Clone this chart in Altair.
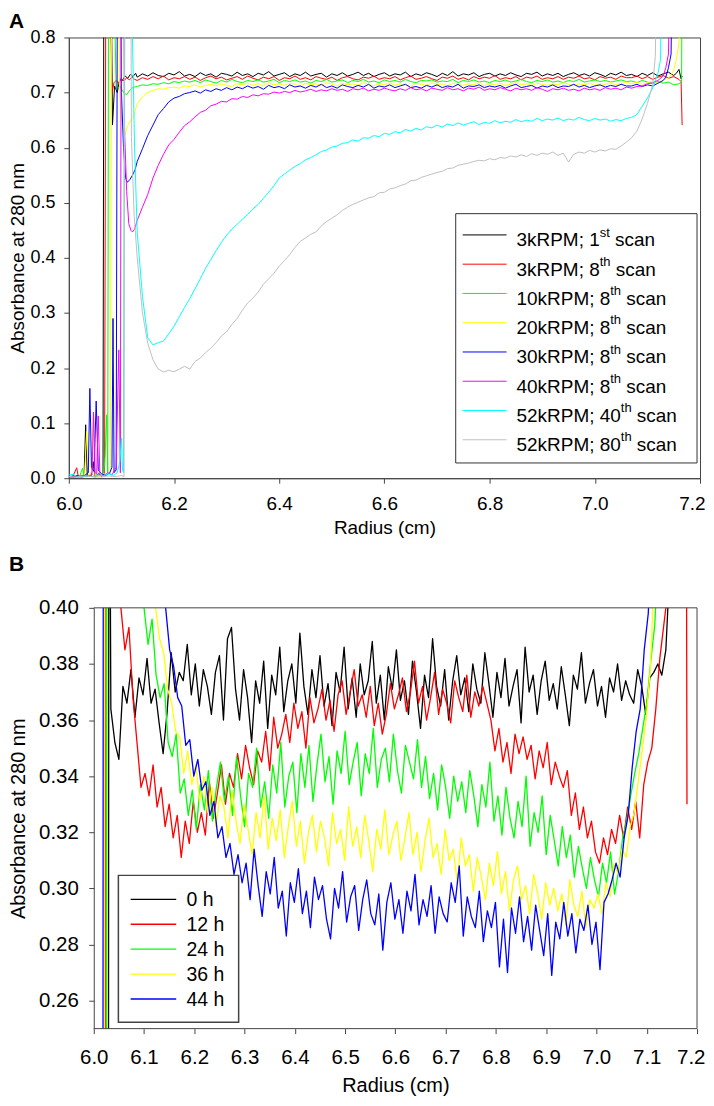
import altair as alt
import pandas as pd

FONT = "Liberation Sans"

# ======================= Panel A data (absorbance vs radius) =======================
A_BODY_X0 = 6.13
A_BODY_STEP = 0.01

A_BLACK_HEAD_X = [6.000,6.008,6.016,6.024,6.029,6.032,6.035,6.042,6.046,6.050,6.056,6.062,6.065,6.067,6.078,6.083,6.087,6.092,6.097,6.102,6.107,6.112,6.117,6.122,6.127]
A_BLACK_HEAD_Y = [0.004,0.002,0.005,0.003,0.006,0.097,0.005,0.004,0.030,0.003,0.008,0.004,0.006,1.200,1.200,0.641,0.712,0.700,0.725,0.722,0.730,0.726,0.733,0.729,0.735]
A_BLACK_BODY = [728,734,730,736,731,729,735,732,738,730,
                733,729,736,731,734,728,735,733,730,737,
                731,734,729,735,732,738,730,733,736,729,
                734,731,737,730,733,735,728,734,731,736,
                730,733,737,731,735,729,733,736,730,734,
                732,737,729,734,731,736,733,729,735,731,
                738,730,734,732,736,729,733,735,730,734,
                731,736,732,729,735,733,737,730,734,731,
                735,729,733,736,731,734,730,736,733,729,
                735,732,737,731]
A_BLACK_TAIL_X = [7.07,7.08,7.09,7.10,7.11,7.12,7.13,7.14,7.15,7.155,7.16,7.164,7.166]
A_BLACK_TAIL_Y = [0.733,0.729,0.735,0.731,0.736,0.730,0.734,0.737,0.731,0.735,0.742,0.725,0.730]

A_RED_HEAD_X = [6.000,6.008,6.015,6.018,6.025,6.035,6.045,6.055,6.063,6.068,6.071,6.073,6.082,6.086,6.090,6.095,6.100,6.105,6.110,6.115,6.120,6.125]
A_RED_HEAD_Y = [0.003,0.004,0.019,0.003,0.002,0.005,0.003,0.006,0.004,0.008,1.200,1.200,0.700,0.718,0.722,0.717,0.725,0.721,0.727,0.723,0.728,0.724]
A_RED_BODY = [722,727,724,729,725,730,723,727,725,729,
              724,728,722,727,730,725,728,723,726,729,
              724,730,726,723,728,725,729,722,727,725,
              730,724,727,723,729,726,724,728,722,727,
              729,725,723,728,726,730,724,727,725,729,
              723,727,730,724,726,729,725,722,728,726,
              730,724,727,723,729,725,728,726,731,724,
              727,725,729,723,728,726,730,724,727,725,
              729,724,728,726,730,725,727,723,729,726,
              728,724,730,727]
A_RED_TAIL_X = [7.07,7.08,7.09,7.10,7.11,7.12,7.13,7.14,7.15,7.16,7.164,7.166]
A_RED_TAIL_Y = [0.727,0.730,0.725,0.729,0.724,0.728,0.731,0.726,0.729,0.724,0.720,0.641]

A_GREEN_HEAD_X = [6.000,6.010,6.020,6.026,6.029,6.040,6.050,6.060,6.066,6.069,6.072,6.074,6.076,6.080,6.090,6.097,6.104,6.110,6.115,6.120,6.125]
A_GREEN_HEAD_Y = [0.002,0.003,0.002,0.018,0.003,0.004,0.002,0.006,0.004,0.040,0.115,0.010,1.200,1.200,0.705,0.712,0.700,0.696,0.703,0.708,0.710]
A_GREEN_BODY = [711,714,713,716,715,718,716,720,718,721,
                719,722,718,723,720,717,722,719,724,720,
                718,722,720,723,719,721,724,718,722,720,
                723,719,721,717,722,720,724,719,721,723,
                718,722,720,724,719,721,718,723,720,722,
                719,724,720,718,722,721,723,719,721,720,
                724,718,722,720,723,719,721,718,722,720,
                723,719,721,724,720,718,722,720,723,719,
                721,718,722,720,724,719,721,723,720,722,
                719,721,723,720]
A_GREEN_TAIL_X = [7.07,7.08,7.09,7.10,7.11,7.12,7.13,7.14,7.15,7.16,7.165,7.167]
A_GREEN_TAIL_Y = [0.721,0.718,0.722,0.719,0.716,0.720,0.717,0.719,0.714,0.716,0.720,1.200]

A_YELLOW_HEAD_X = [6.000,6.012,6.022,6.030,6.034,6.038,6.043,6.046,6.050,6.058,6.066,6.074,6.079,6.082,6.090,6.097,6.102,6.106,6.112,6.118,6.124]
A_YELLOW_HEAD_Y = [0.003,0.002,0.004,0.006,0.085,0.004,0.010,0.120,0.005,0.004,0.008,0.006,0.010,1.200,1.200,0.690,0.640,0.622,0.640,0.650,0.660]
A_YELLOW_BODY = [680,692,700,704,707,706,709,710,708,712,
                 711,714,710,713,715,712,716,713,711,716,
                 714,717,713,716,712,718,714,716,713,717,
                 715,712,717,714,716,713,718,715,712,717,
                 714,716,713,718,715,712,716,714,718,713,
                 716,714,711,717,715,713,718,714,716,712,
                 717,715,713,716,714,718,712,716,714,717,
                 713,715,718,714,716,712,717,715,713,716,
                 714,718,715,712,716,714,717,713,716,715,
                 718,714,716,719]
A_YELLOW_TAIL_X = [7.07,7.08,7.09,7.10,7.11,7.12,7.13,7.14,7.15,7.155,7.16,7.164]
A_YELLOW_TAIL_Y = [0.716,0.719,0.715,0.718,0.721,0.717,0.722,0.726,0.740,0.760,0.790,1.200]

A_BLUE_HEAD_X = [6.000,6.010,6.020,6.030,6.037,6.040,6.043,6.048,6.052,6.056,6.062,6.070,6.078,6.082,6.084,6.086,6.090,6.093,6.097,6.100,6.104,6.108,6.111,6.116,6.121,6.126]
A_BLUE_HEAD_Y = [0.002,0.004,0.003,0.005,0.010,0.163,0.020,0.012,0.140,0.015,0.008,0.005,0.010,0.020,0.290,0.010,0.015,1.200,1.200,0.700,0.600,0.545,0.537,0.542,0.550,0.560]
A_BLUE_BODY = [575,598,622,641,660,671,683,690,693,698,
               700,703,699,705,702,707,704,709,705,710,
               707,712,708,711,706,713,709,711,707,714,
               710,712,708,713,710,715,709,712,708,714,
               711,709,713,710,715,708,712,710,714,709,
               712,715,709,711,708,713,710,714,709,712,
               710,715,708,712,711,714,709,712,710,713,
               708,712,715,709,711,713,708,712,710,714,
               709,712,711,715,710,713,709,712,714,710,
               713,711,715,712]
A_BLUE_TAIL_X = [7.07,7.08,7.09,7.10,7.11,7.12,7.13,7.135,7.14,7.145,7.15]
A_BLUE_TAIL_Y = [0.712,0.715,0.711,0.714,0.712,0.717,0.722,0.728,0.745,0.770,1.200]

A_MAGENTA_HEAD_X = [6.000,6.012,6.024,6.034,6.044,6.047,6.050,6.053,6.056,6.059,6.066,6.074,6.082,6.090,6.095,6.098,6.100,6.103,6.106,6.110,6.114,6.118,6.121,6.125]
A_MAGENTA_HEAD_Y = [0.003,0.002,0.004,0.003,0.006,0.120,0.010,0.008,0.113,0.006,0.004,0.010,0.006,0.020,0.233,0.010,1.200,1.200,0.630,0.520,0.462,0.450,0.447,0.452]
A_MAGENTA_BODY = [468,492,515,545,568,588,605,615,628,640,
                  647,656,664,668,676,679,684,683,689,688,
                  693,691,696,694,698,697,701,699,702,700,
                  704,701,703,706,702,705,703,707,704,706,
                  702,707,705,708,703,706,704,708,705,703,
                  707,704,709,705,707,703,708,706,704,709,
                  705,707,703,708,706,710,704,707,705,709,
                  706,703,708,705,707,704,709,706,702,707,
                  705,708,704,706,703,708,705,707,704,709,
                  706,708,705,710]
A_MAGENTA_TAIL_X = [7.07,7.08,7.09,7.10,7.11,7.12,7.13,7.135,7.14,7.148]
A_MAGENTA_TAIL_Y = [0.708,0.711,0.712,0.716,0.718,0.722,0.730,0.745,0.770,1.200]

A_CYAN_HEAD_X = [6.000,6.008,6.016,6.025,6.035,6.045,6.055,6.065,6.075,6.085,6.092,6.097,6.100,6.102,6.104,6.106,6.118,6.121,6.125]
A_CYAN_HEAD_Y = [0.006,0.007,0.003,0.002,0.004,0.003,0.006,0.004,0.008,0.005,0.010,0.030,0.073,0.015,0.010,1.200,1.200,0.800,0.600]
A_CYAN_BODY = [447,330,255,242,246,249,262,276,293,310,
               326,344,362,381,397,413,428,441,452,461,
               470,479,489,497,508,519,531,545,552,559,
               566,571,578,582,587,593,596,601,603,608,
               609,614,612,618,617,622,620,626,624,629,
               627,633,630,635,632,638,636,641,637,643,
               640,645,641,644,647,642,646,644,649,645,
               648,646,651,647,650,648,653,649,652,650,
               654,649,652,650,655,651,649,653,650,652,
               648,651,649,653]
A_CYAN_TAIL_X = [7.07,7.08,7.09,7.10,7.11,7.12,7.125,7.13]
A_CYAN_TAIL_Y = [0.655,0.660,0.675,0.690,0.708,0.735,0.760,1.200]

A_GRAY_HEAD_X = [6.000,6.015,6.030,6.045,6.060,6.075,6.090,6.100,6.105,6.107,6.117,6.119,6.124]
A_GRAY_HEAD_Y = [0.003,0.002,0.004,0.003,0.002,0.004,0.003,0.005,0.003,1.200,1.200,0.620,0.480]
A_GRAY_BODY = [400,300,245,215,198,193,196,193,198,203,
               198,212,218,228,236,246,258,266,279,290,
               305,318,327,338,352,362,372,385,395,406,
               419,430,436,443,447,458,466,472,478,486,
               492,497,501,505,509,511,518,519,525,527,
               531,534,540,541,546,549,552,555,557,562,
               563,568,570,572,575,577,576,580,578,582,
               581,585,583,587,584,589,586,590,588,592,
               586,590,574,588,592,590,595,592,596,594,
               598,597,603,610]
A_GRAY_TAIL_X = [7.07,7.08,7.09,7.10,7.11,7.115,7.122]
A_GRAY_TAIL_Y = [0.618,0.630,0.652,0.680,0.715,0.765,1.200]

A_LABEL_MAIN = ["3kRPM; 1", "3kRPM; 8", "10kRPM; 8", "20kRPM; 8",
                "30kRPM; 8", "40kRPM; 8", "52kRPM; 40", "52kRPM; 80"]
A_LABEL_SUP = ["st", "th", "th", "th", "th", "th", "th", "th"]
A_LABEL_END = "scan"
A_COLORS = ["#000000", "#ff0000", "#00ff00", "#ffff00",
            "#0000ff", "#ff00ff", "#00ffff", "#c0c0c0"]
A_X_TICKS = [6.0, 6.2, 6.4, 6.6, 6.8, 7.0, 7.2]
A_Y_TICKS = [0.0, 0.1, 0.2, 0.3, 0.4, 0.5, 0.6, 0.7, 0.8]

# ======================= Panel B data =======================
B_STEP = 0.008

B_BLACK_HEAD_X = [6.000, 6.029, 6.030, 6.032]
B_BLACK_HEAD_Y = [0.10, 0.10, 0.45, 0.45]
B_BLACK_X0 = 6.034
B_BLACK_BODY = [364,352,346,372,366,378,361,375,369,382,
                366,371,359,348,363,384,370,377,374,387,
                369,380,365,378,372,362,377,383,360,389,
                393,371,360,378,368,352,374,366,381,357,
                376,369,386,363,374,380,366,391,372,362,
                378,368,383,365,373,358,377,370,386,364,
                375,361,380,369,374,388,366,376,360,379,
                371,385,367,374,362,381,370,357,376,368,
                389,372,365,378,360,374,383,369,375,363,
                380,371,366,384,373,361,377,368,382,365,
                372,378,359,386,370,376,362,374,381,367,
                373,364,379,369,358,376,371,384,366,373,
                378,365,372,361,375,370,380,367,374,369,
                366,378,372,362,375,377,380,376,385]
B_BLACK_TAIL_X = [7.142, 7.146]
B_BLACK_TAIL_Y = [0.40, 0.45]

B_RED_HEAD_X = [6.000, 6.023, 6.024, 6.052]
B_RED_HEAD_Y = [0.10, 0.10, 0.45, 0.45]
B_RED_X0 = 6.054
B_RED_BODY = [400,385,393,368,352,336,341,333,344,329,
              336,322,330,318,326,311,324,316,331,320,
              327,319,338,325,334,344,330,341,336,348,
              339,351,343,337,349,345,356,342,361,350,
              355,362,352,366,357,363,350,368,359,364,
              371,360,367,356,369,374,362,370,378,365,
              369,361,372,358,366,355,362,373,364,369,
              375,363,370,381,366,372,360,368,377,362,
              371,366,359,374,368,363,376,361,370,365,
              372,366,360,349,357,345,352,341,355,348,
              354,346,351,339,349,343,352,337,345,340,
              336,342,326,334,321,329,318,324,313,309,
              318,312,321,316,326,318,329,321,331,318,
              337,345,350,364,382,394]
B_RED_TAIL_X = [7.138, 7.141, 7.179, 7.180]
B_RED_TAIL_Y = [0.400, 0.430, 0.430, 0.330]

B_GREEN_HEAD_X = [6.000, 6.025, 6.026, 6.098]
B_GREEN_HEAD_Y = [0.10, 0.10, 0.45, 0.45]
B_GREEN_X0 = 6.100
B_GREEN_BODY = [400,387,396,376,368,373,352,347,355,334,
                339,326,335,321,337,328,342,324,336,345,
                331,340,326,347,333,322,341,336,350,329,
                338,325,344,334,352,329,340,345,327,348,
                336,351,331,344,355,338,347,330,349,341,
                356,337,345,352,333,348,341,357,336,346,
                350,338,355,342,334,351,345,339,353,336,
                347,332,341,328,344,336,325,340,331,338,
                327,342,333,322,337,329,345,324,333,319,
                336,325,318,331,322,340,315,327,320,333,
                312,326,317,308,322,311,319,304,315,307,
                300,311,303,297,309,302,313,298,306,318,
                324,333,341,348,357,366,381,394]
B_GREEN_TAIL_X = [7.120, 7.124]
B_GREEN_TAIL_Y = [0.410, 0.430]

B_YELLOW_HEAD_X = [6.000, 6.021, 6.022, 6.121]
B_YELLOW_HEAD_Y = [0.10, 0.10, 0.45, 0.45]
B_YELLOW_X0 = 6.123
B_YELLOW_BODY = [400,389,384,371,366,356,354,341,349,337,
                 344,331,340,327,336,322,333,329,318,335,
                 324,316,330,321,312,327,318,333,314,325,
                 317,328,311,322,331,315,324,309,320,326,
                 313,324,318,308,327,316,321,310,329,315,
                 322,311,326,317,306,321,314,328,312,319,
                 324,310,318,327,312,320,306,317,325,311,
                 316,305,321,310,314,302,318,308,312,299,
                 311,304,296,309,301,313,298,306,292,303,
                 308,296,301,291,305,298,289,302,294,300,
                 292,298,287,303,294,290,299,286,296,293,
                 298,291,302,297,309,305,314,311,322,327,
                 338,349,361,378]
B_YELLOW_TAIL_X = [7.111, 7.114]
B_YELLOW_TAIL_Y = [0.395, 0.430]

B_BLUE_HEAD_X = [6.000, 6.018, 6.019, 6.141]
B_BLUE_HEAD_Y = [0.10, 0.10, 0.45, 0.45]
B_BLUE_X0 = 6.143
B_BLUE_BODY = [400,385,379,368,365,351,353,340,346,335,
               338,326,331,318,322,311,316,305,312,302,
               309,296,314,301,290,306,298,311,293,299,
               283,302,295,307,291,299,286,304,296,301,
               289,282,300,293,306,288,297,301,285,296,
               303,291,287,298,278,295,302,289,296,284,
               299,292,305,287,296,290,301,284,297,291,
               288,302,295,308,283,297,290,286,299,281,
               292,286,295,272,289,270,293,284,297,281,
               290,278,294,285,276,291,269,288,282,295,
               283,291,277,289,285,294,280,288,271,295,
               298,303,309,304,318,326,343,356,364,385,
               398]
B_BLUE_TAIL_X = [7.106, 7.110]
B_BLUE_TAIL_Y = [0.410, 0.430]

B_LABELS = ["0 h", "12 h", "24 h", "36 h", "44 h"]
B_COLORS = ["#000000", "#ff0000", "#00ff00", "#ffff00", "#0000ff"]
B_X_TICKS = [6.0, 6.1, 6.2, 6.3, 6.4, 6.5, 6.6, 6.7, 6.8, 6.9, 7.0, 7.1, 7.2]
B_Y_TICKS = [0.26, 0.28, 0.30, 0.32, 0.34, 0.36, 0.38, 0.40]

# ======================= helpers =======================
ONE = pd.DataFrame({"k": [0]})
FRAME = "#444444"

ARIAL_W = {c: 556 for c in "0123456789"}
ARIAL_W.update({"k": 500, "R": 722, "P": 667, "M": 833, ";": 278, " ": 278,
                "s": 500, "t": 278, "h": 556, "c": 500, "a": 556, "n": 556})


def text_w(s, size):
    return sum(ARIAL_W.get(c, 556) for c in s) * size / 1000.0


def series_df(hx, hy, x0, step, body, tx, ty):
    xs = list(hx) + [round(x0 + i * step, 4) for i in range(len(body))] + list(tx)
    ys = list(hy) + [v / 1000.0 for v in body] + list(ty)
    return pd.DataFrame({"r": xs, "a": ys, "i": list(range(len(xs)))})


def line_layer(df, color, width, xsc, ysc, xax, yax):
    return alt.Chart(df).mark_line(color=color, strokeWidth=width, clip=True,
                                   strokeJoin="round").encode(
        x=alt.X("r:Q", scale=xsc, axis=xax),
        y=alt.Y("a:Q", scale=ysc, axis=yax),
        order="i:Q",
    )


def vtext(txt, x, y, size, weight="normal", baseline="alphabetic"):
    return alt.Chart(ONE).mark_text(text=txt, font=FONT, fontSize=size, fontWeight=weight,
                                    color="black", align="left", baseline=baseline).encode(
        x=alt.value(x), y=alt.value(y))


def hrule(x1, x2, y, color, width):
    return alt.Chart(ONE).mark_rule(color=color, strokeWidth=width).encode(
        x=alt.value(x1), x2=alt.value(x2), y=alt.value(y))


def vrule_(x, y1, y2, color, width):
    return alt.Chart(ONE).mark_rule(color=color, strokeWidth=width).encode(
        x=alt.value(x), y=alt.value(y1), y2=alt.value(y2))


def vrect(x1, y1, x2, y2, stroke, width):
    return alt.Chart(ONE).mark_rect(fill="white", stroke=stroke, strokeWidth=width).encode(
        x=alt.value(x1), x2=alt.value(x2), y=alt.value(y1), y2=alt.value(y2))


def last_cond(v_last, v_other):
    return {"condition": {"test": "datum.value >= 7.19", "value": v_last}, "value": v_other}


# ======================= Panel A =======================
A_W, A_H = 633, 442
a_xsc = alt.Scale(domain=[6.0, 7.2], nice=False, zero=False)
a_ysc = alt.Scale(domain=[0.0, 0.8], nice=False)
a_xax = alt.Axis(values=A_X_TICKS, format=".1f", labelFontSize=19, labelPadding=11,
                 labelAlign=last_cond("right", "center"), labelOffset=last_cond(5, 0),
                 title="Radius (cm)", titleFontSize=19, titlePadding=5)
a_yax = alt.Axis(values=A_Y_TICKS, format=".1f", labelFontSize=18, labelPadding=9,
                 title="Absorbance at 280 nm", titleFontSize=19, titleAngle=270,
                 titleX=-45, titleY=A_H / 2, titleBaseline="alphabetic", titleAlign="center")

a_series = [
    (A_BLACK_HEAD_X, A_BLACK_HEAD_Y, A_BLACK_BODY, A_BLACK_TAIL_X, A_BLACK_TAIL_Y),
    (A_RED_HEAD_X, A_RED_HEAD_Y, A_RED_BODY, A_RED_TAIL_X, A_RED_TAIL_Y),
    (A_GREEN_HEAD_X, A_GREEN_HEAD_Y, A_GREEN_BODY, A_GREEN_TAIL_X, A_GREEN_TAIL_Y),
    (A_YELLOW_HEAD_X, A_YELLOW_HEAD_Y, A_YELLOW_BODY, A_YELLOW_TAIL_X, A_YELLOW_TAIL_Y),
    (A_BLUE_HEAD_X, A_BLUE_HEAD_Y, A_BLUE_BODY, A_BLUE_TAIL_X, A_BLUE_TAIL_Y),
    (A_MAGENTA_HEAD_X, A_MAGENTA_HEAD_Y, A_MAGENTA_BODY, A_MAGENTA_TAIL_X, A_MAGENTA_TAIL_Y),
    (A_CYAN_HEAD_X, A_CYAN_HEAD_Y, A_CYAN_BODY, A_CYAN_TAIL_X, A_CYAN_TAIL_Y),
    (A_GRAY_HEAD_X, A_GRAY_HEAD_Y, A_GRAY_BODY, A_GRAY_TAIL_X, A_GRAY_TAIL_Y),
]
a_layers = []
for (hx, hy, body, tx, ty), col in zip(a_series, A_COLORS):
    df = series_df(hx, hy, A_BODY_X0, A_BODY_STEP, body, tx, ty)
    a_layers.append(line_layer(df, col, 1.0, a_xsc, a_ysc, a_xax, a_yax))

# legend A (inside plot, lower right)
a_layers.append(vrect(388, 176.7, 630, 426.7, "#333333", 1))
LA_Y0, LA_DY = 198.0, 29.35
LA_MAIN, LA_SUP = 19, 13
for i, (m, s, col) in enumerate(zip(A_LABEL_MAIN, A_LABEL_SUP, A_COLORS)):
    ly = LA_Y0 + i * LA_DY
    a_layers.append(hrule(395, 439, ly, col, 1))
    a_layers.append(vtext(m, 449, ly + 11.5, LA_MAIN))
    xs = 449 + text_w(m, LA_MAIN)
    a_layers.append(vtext(s, xs, ly + 1.7, LA_SUP))
    xe = xs + text_w(s, LA_SUP) + text_w(" ", LA_MAIN)
    a_layers.append(vtext(A_LABEL_END, xe, ly + 11.5, LA_MAIN))

# panel letters (both drawn in the first panel's coordinate frame)
a_layers.append(vtext("A", -60, -27, 21, weight="bold", baseline="top"))
a_layers.append(vtext("B", -60, 518, 21, weight="bold", baseline="top"))
panel_a = alt.layer(*a_layers).properties(width=A_W, height=A_H)

# ======================= Panel B =======================
B_OFF = 25            # plot area of panel B starts 25 px right of panel A's
B_PW, B_H = 605, 422  # plot area size
B_W = B_OFF + B_PW
b_xsc = alt.Scale(domain=[6.0, 7.2], range=[B_OFF, B_W], nice=False, zero=False)
b_ysc = alt.Scale(domain=[0.25, 0.40], nice=False, zero=False)
b_xax = alt.Axis(values=B_X_TICKS, format=".1f", labelFontSize=20.5, labelPadding=13.5,
                 labelAlign=last_cond("right", "center"), labelOffset=last_cond(8, 0),
                 domain=False, title="Radius (cm)", titleFontSize=20, titlePadding=8,
                 titleX=B_OFF + B_PW / 2, titleAlign="center")
b_yax = alt.Axis(values=B_Y_TICKS, format=".2f", labelFontSize=20.5, labelPadding=10.5,
                 offset=-B_OFF,
                 title="Absorbance at 280 nm", titleFontSize=20, titleAngle=270,
                 titleX=-69, titleY=B_H / 2, titleBaseline="alphabetic", titleAlign="center")

b_series = [
    (B_BLACK_HEAD_X, B_BLACK_HEAD_Y, B_BLACK_X0, B_BLACK_BODY, B_BLACK_TAIL_X, B_BLACK_TAIL_Y),
    (B_RED_HEAD_X, B_RED_HEAD_Y, B_RED_X0, B_RED_BODY, B_RED_TAIL_X, B_RED_TAIL_Y),
    (B_GREEN_HEAD_X, B_GREEN_HEAD_Y, B_GREEN_X0, B_GREEN_BODY, B_GREEN_TAIL_X, B_GREEN_TAIL_Y),
    (B_YELLOW_HEAD_X, B_YELLOW_HEAD_Y, B_YELLOW_X0, B_YELLOW_BODY, B_YELLOW_TAIL_X, B_YELLOW_TAIL_Y),
    (B_BLUE_HEAD_X, B_BLUE_HEAD_Y, B_BLUE_X0, B_BLUE_BODY, B_BLUE_TAIL_X, B_BLUE_TAIL_Y),
]
b_layers = []
for (hx, hy, x0, body, tx, ty), col in zip(b_series, B_COLORS):
    df = series_df(hx, hy, x0, B_STEP, body, tx, ty)
    b_layers.append(line_layer(df, col, 1.3, b_xsc, b_ysc, b_xax, b_yax))

# frame of panel B's plot area
b_layers.append(hrule(B_OFF, B_W, 0, FRAME, 1))
b_layers.append(hrule(B_OFF, B_W, B_H, FRAME, 1))
b_layers.append(vrule_(B_W, 0, B_H, FRAME, 1))

b_layers.append(vrect(B_OFF + 24.7, 268.3, B_OFF + 145.3, 415.7, FRAME, 1.5))
LB_Y0, LB_DY = 292.3, 25.0
for i, (lab, col) in enumerate(zip(B_LABELS, B_COLORS)):
    ly = LB_Y0 + i * LB_DY
    b_layers.append(hrule(B_OFF + 37, B_OFF + 82.7, ly, col, 1.3))
    b_layers.append(vtext(lab, B_OFF + 93, ly + 1, 19.5, baseline="middle"))

panel_b = alt.layer(*b_layers).properties(
    width=B_W, height=B_H, view=alt.ViewBackground(strokeOpacity=0))

chart = (
    alt.concat(panel_a, panel_b, columns=1, align="none", spacing=22)
    .properties(padding={"left": 0, "top": 0, "right": 0, "bottom": 0})
    .configure_view(stroke=FRAME, strokeWidth=1)
    .configure_axis(grid=False, domainColor=FRAME, tickColor=FRAME, tickSize=5,
                    labelColor="black", titleColor="black", labelFont=FONT, titleFont=FONT,
                    titleFontWeight="normal", labelFlush=False, labelOverlap=False)
)

chart.save("out.html", embed_options={"renderer": "svg", "actions": False})
